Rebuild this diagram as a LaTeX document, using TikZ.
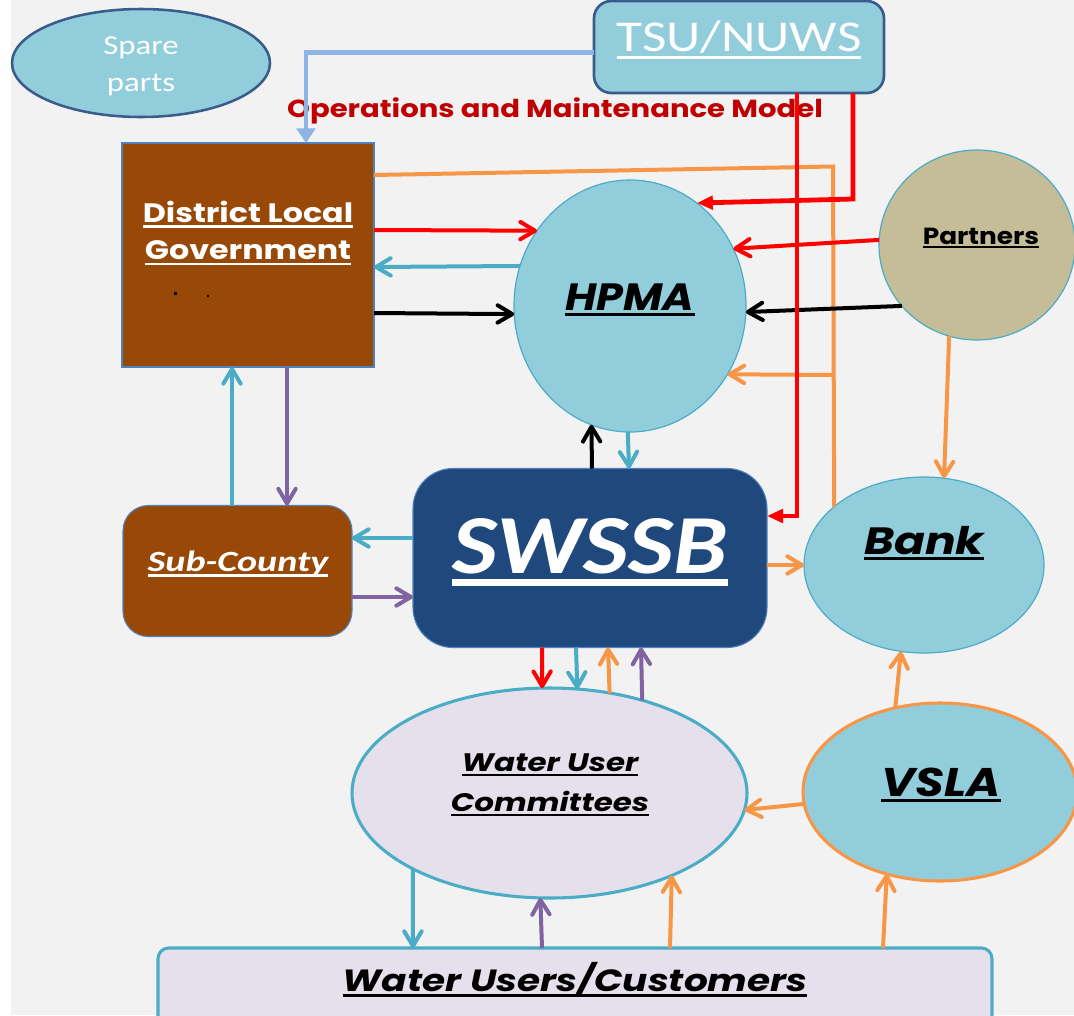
\documentclass[tikz,border=0pt]{standalone}
\usepackage{graphicx}
\usepackage{fontspec}
\setmainfont{Carlito}
\newfontfamily\gothic{Poppins}
\usetikzlibrary{arrows.meta,shapes.geometric}

\definecolor{paper}{HTML}{F2F2F2}
\definecolor{aqua}{HTML}{92CDDC}
\definecolor{edgeblue}{HTML}{385D8A}
\definecolor{thinblue}{HTML}{4F81BD}
\definecolor{tealc}{HTML}{4BACC6}
\definecolor{orangec}{HTML}{F79646}
\definecolor{purplec}{HTML}{8064A2}
\definecolor{redc}{HTML}{FF0000}
\definecolor{skyline}{HTML}{8DB4E2}
\definecolor{brownbox}{HTML}{984807}
\definecolor{navybox}{HTML}{1F497D}
\definecolor{khaki}{HTML}{C4BD97}
\definecolor{lavender}{HTML}{E5E0EC}
\definecolor{titlered}{HTML}{C00000}

% underlined text: offset below the baseline, then a rule as wide as the text
\newcommand\ulin[2][0.12em]{\setbox0\hbox{#2}\leavevmode\rlap{\copy0}\rule[\dimexpr-#1-0.085em\relax]{\wd0}{0.085em}}
% horizontally widened lettering
\newcommand\wide[2][1.2]{\scalebox{#1}[1]{#2}}

\begin{document}
\begin{tikzpicture}[x=0.75pt,y=-0.75pt,
  every node/.style={inner sep=0pt,outer sep=0pt},
  link/.style={line width=3pt,-{Straight Barb[length=11pt,width=13pt,round]}},
  tline/.style={line width=3.6pt,-{Triangle[length=12pt,width=10pt]}},
  skyarrow/.style={skyline,line width=3.2pt,-{Triangle[length=11pt,width=14pt]}},
  oval/.style={ellipse,inner sep=0pt},
  ]
\useasboundingbox (0,0) rectangle (1074,1015);
\clip (0,0) rectangle (1074,1015);
\fill[white] (0,0) rectangle (1074,1015);
\fill[paper] (11,0) rectangle (1074,1015);

% title
\node[text=titlered,font=\gothic\bfseries\fontsize{18.5}{22}\selectfont] (title) at (555,111) {\wide[1.18]{Operations and Maintenance Model}};

% shapes
\node[oval,fill=aqua,draw=edgeblue,line width=1.9pt,minimum width=258*0.75pt,minimum height=108*0.75pt] (spare) at (141,63) {};
\node[rectangle,rounded corners=13pt,fill=aqua,draw=edgeblue,line width=2pt,minimum width=290*0.75pt,minimum height=92*0.75pt] (tsu) at (739,47) {};
\node[rectangle,fill=brownbox,draw=thinblue,line width=0.8pt,minimum width=252*0.75pt,minimum height=224*0.75pt] (dlg) at (248,255) {};
\node[oval,fill=aqua,draw=tealc,line width=0.9pt,minimum width=232*0.75pt,minimum height=252*0.75pt] (hpma) at (630,306) {};
\node[oval,fill=khaki,draw=tealc,line width=0.9pt,minimum width=196*0.75pt,minimum height=190*0.75pt] (partners) at (977,245) {};
\node[rectangle,rounded corners=30pt,fill=navybox,draw=thinblue,line width=0.8pt,minimum width=354*0.75pt,minimum height=179*0.75pt] (swssb) at (590,558) {};
\node[rectangle,rounded corners=19pt,fill=brownbox,draw=thinblue,line width=0.8pt,minimum width=229*0.75pt,minimum height=131*0.75pt] (sub) at (237.5,571) {};
\node[oval,fill=aqua,draw=tealc,line width=0.9pt,minimum width=240*0.75pt,minimum height=176*0.75pt] (bank) at (924,565) {};
\node[oval,fill=lavender,draw=tealc,line width=2.3pt,minimum width=395*0.75pt,minimum height=210*0.75pt] (wuc) at (549.5,793) {};
\node[oval,fill=aqua,draw=orangec,line width=2.3pt,minimum width=274*0.75pt,minimum height=178*0.75pt] (vsla) at (940,792) {};
\node[rectangle,rounded corners=8pt,fill=lavender,draw=tealc,line width=2.3pt,minimum width=834*0.75pt,minimum height=140*0.75pt] (cust) at (575,1018) {};

% labels
\node[text=white,align=center,font=\fontsize{20.5}{28}\selectfont] (sparetext) at (141,66) {\wide{Spare}\\\wide{parts}};
\node[text=white,font=\fontsize{33}{36}\selectfont] (tsutext) at (739,40) {\wide[1.21]{\ulin[0.1em]{TSU/NUWS}}};
\node[text=white,align=center,font=\gothic\bfseries\fontsize{20}{28}\selectfont] (dlgtext) at (248,233) {\wide[1.19]{\ulin{District Local}}\\\wide[1.19]{\ulin{Government}}};
\node[fill=black,minimum size=3*0.75pt] (dotA) at (175,293) {};
\node[fill=black,minimum size=1.2*0.75pt] (dotB) at (208,296) {};
\node[font=\gothic\bfseries\itshape\fontsize{28.5}{32}\selectfont] (hpmatext) at (630,300) {\wide[1.13]{\ulin[0.07em]{HPMA}}};
\node[font=\gothic\bfseries\fontsize{17.5}{20}\selectfont] (partnerstext) at (981,238) {\wide[1.13]{\ulin[0.1em]{Partners}}};
\node[text=white,font=\bfseries\itshape\fontsize{63}{70}\selectfont] (swssbtext) at (590,552) {\wide[1.15]{\ulin[0.07em]{SWSSB}}};
\node[text=white,font=\bfseries\itshape\fontsize{22}{26}\selectfont] (subtext) at (238,564) {\wide[1.3]{\ulin[0.08em]{Sub-County}}};
\node[font=\gothic\bfseries\itshape\fontsize{28.5}{32}\selectfont] (banktext) at (924,543) {\wide[1.2]{\ulin[0.07em]{Bank}}};
\node[align=center,font=\gothic\bfseries\itshape\fontsize{19}{30}\selectfont] (wuctext) at (550,785) {\wide[1.22]{\ulin[0.1em]{Water User}}\\\wide[1.22]{\ulin[0.1em]{Committees}}};
\node[font=\gothic\bfseries\itshape\fontsize{30}{34}\selectfont] (vslatext) at (941,785) {\wide[1.16]{\ulin[0.07em]{VSLA}}};
\node[font=\gothic\bfseries\itshape\fontsize{23}{27}\selectfont] (custtext) at (575,980) {\wide[1.22]{\ulin[0.08em]{Water Users/Customers}}};

% corner points of the routed lines
\coordinate (otop) at (833,166.5);
\coordinate (oside) at (833,375);
\coordinate (rcornerA) at (853,199);
\coordinate (rcornerB) at (797,516);

% TSU/NUWS to the district
\draw[skyarrow] (tsu.west |- 0,52.5) -| (dlg.north -| 306,0);

% district, bank and HPMA (orange)
\draw[orangec,line width=3pt] (dlg.east |- 0,175) -- (otop) -- (bank.147.8);
\draw[orangec,link] (oside) -- (hpma.-35.4);

% district and HPMA
\draw[redc,link] (dlg.east |- 0,230) -- (hpma.141.2);
\draw[tealc,link] (hpma.160.5) -- (dlg.east |- 0,267);
\draw[black,link] (dlg.east |- 0,313) -- (hpma.184);

% partners
\draw[redc,link] (partners.177) -- (hpma.29.9);
\draw[black,link] (partners.219.1) -- (hpma.-3.5);
\draw[orangec,link] (partners.253.5) -- (bank.77.7);

% HPMA and SWSSB
\draw[black,link] (swssb.north -| 592,0) -- (hpma.252.8);
\draw[tealc,link] (hpma.269) -- (swssb.north -| 629,0);

% district and sub-county
\draw[tealc,link] (sub.north -| 232,0) -- (dlg.south -| 232,0);
\draw[purplec,link] (dlg.south -| 287,0) -- (sub.north -| 287,0);

% sub-county and SWSSB
\draw[tealc,link] (swssb.west |- 0,538) -- (sub.east |- 0,538);
\draw[purplec,link] (sub.east |- 0,597) -- (swssb.west |- 0,597);

% SWSSB and bank
\draw[orangec,link] (swssb.east |- 0,565) -- (bank.180);

% SWSSB and water user committees
\draw[redc,link] (swssb.south -| 542,0) -- (wuc.94.4);
\draw[tealc,link] (swssb.south -| 576,0) -- (wuc.75.7);
\draw[orangec,link] (wuc.59.7) -- (swssb.south -| 608,0);
\draw[purplec,link] (wuc.45.3) -- (swssb.south -| 641,0);

% VSLA
\draw[orangec,link] (vsla.118.2) -- (bank.255.1);
\draw[orangec,link] (vsla.185.9) -- (wuc.-5.6);

% water users / customers
\draw[tealc,link] (wuc.209.1) -- (cust.north -| 413,0);
\draw[purplec,link] (cust.north -| 542,0) -- (wuc.265.6);
\draw[orangec,link] (cust.north -| 670,0) -- (wuc.-34.6);
\draw[orangec,link] (cust.north -| 883,0) -- (vsla.237.7);

% TSU/NUWS red feeds
\draw[redc,tline] (tsu.south -| 853,0) -- (rcornerA) -- (hpma.57.8);
\draw[redc,tline] (tsu.south -| 797,0) -- (rcornerB) -- (swssb.east |- 0,516);
\end{tikzpicture}
\end{document}
